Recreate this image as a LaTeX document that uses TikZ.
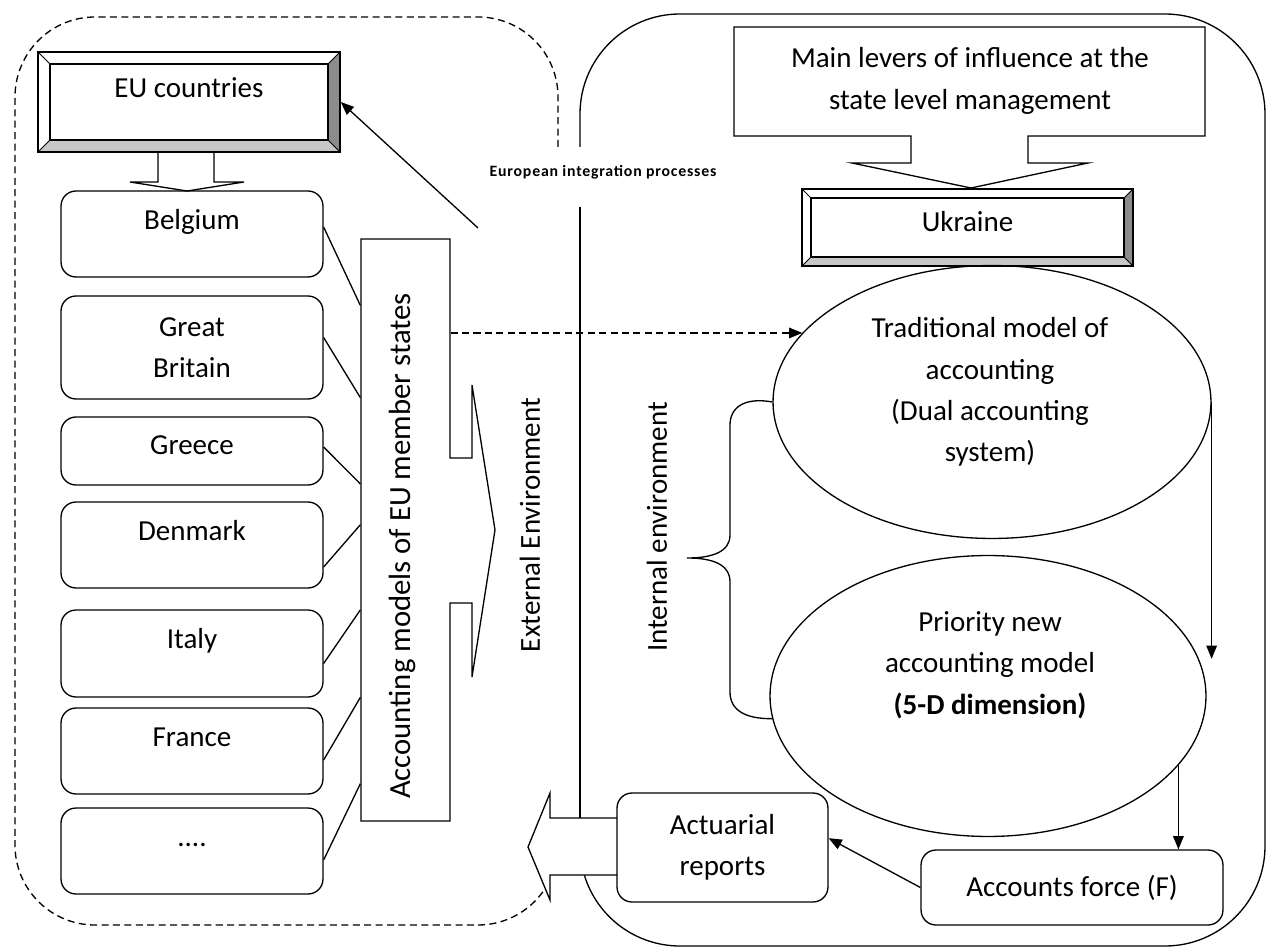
\documentclass[tikz,border=0pt]{standalone}
\usepackage{fontspec}
\setmainfont{Carlito}
\newfontfamily\notefont[LetterSpace=5]{Carlito}
\usetikzlibrary{shapes.geometric,arrows.meta,calc}

\begin{document}
\begin{tikzpicture}[x=0.02cm,y=-0.02cm,line width=0.75pt,
  font=\fontsize{16.5}{23.5}\selectfont,
  >={Triangle[length=7.5pt,width=6pt]},
  dashline/.style={dash pattern=on 4pt off 2.5pt},
  cbox/.style={draw,rounded corners=0.3cm,minimum width=5.24cm,align=center},
  raisetext/.style={text height=12pt,text depth=17.6pt},
  midtext/.style={text height=12pt,text depth=8pt},
  oval/.style={draw,ellipse,inner sep=0pt},
  bevelbox/.style={draw,line width=0.9pt,path picture={
    \path (path picture bounding box.north west) coordinate (o1)
          (path picture bounding box.north east) coordinate (o2)
          (path picture bounding box.south east) coordinate (o3)
          (path picture bounding box.south west) coordinate (o4);
    \fill[black!45] (o2) -- (o3) -- ([shift={(-#1,#1)}]o3) -- ([shift={(-#1,-#1)}]o2) -- cycle;
    \fill[black!22] (o4) -- (o3) -- ([shift={(-#1,#1)}]o3) -- ([shift={(#1,#1)}]o4) -- cycle;
    \draw[line width=0.5pt] (o1) -- ++(#1,-#1) (o2) -- ++(-#1,-#1) (o3) -- ++(-#1,#1) (o4) -- ++(#1,#1);
    \draw[line width=0.9pt] ([shift={(#1,-#1)}]o1) rectangle ([shift={(-#1,#1)}]o3);
  }}]
  \useasboundingbox (0,0) rectangle (1275,949);

  % frames
  \draw[dashline,rounded corners=1.6cm] (558,147) -- (558,17) -- (15,17) -- (15,925) -- (478,925);
  \draw[dashline] (478,925) arc (90:30:80);
  \draw[rounded corners=2cm] (580,147) -- (580,14) -- (1265,14) -- (1265,946) -- (680,946);
  \draw (680,946) arc (90:163:100);
  \draw (580,207) -- (580,818);
  \node[font=\notefont\bfseries\fontsize{9}{11}\selectfont] (eip) at (603,172) {European integration processes};

  % EU side
  \node[bevelbox=6.8pt,minimum width=6.04cm,minimum height=2cm,raisetext] (eu) at (189,102) {EU countries};
  \draw (158,152) -- (158,182) -- (130,182) -- (187,191) -- (244,182) -- (214,182) -- (214,152);
  \node[cbox,minimum height=1.72cm,raisetext] (bel) at (192,234) {Belgium};
  \node[cbox,minimum height=2.06cm] (gb) at (192,347.5) {Great\\Britain};
  \node[cbox,minimum height=1.36cm,midtext] (gre) at (192,451) {Greece};
  \node[cbox,minimum height=1.72cm,raisetext] (den) at (192,545) {Denmark};
  \node[cbox,minimum height=1.74cm,raisetext] (ita) at (192,653.5) {Italy};
  \node[cbox,minimum height=1.72cm,raisetext] (fra) at (192,751) {France};
  \node[cbox,minimum height=1.72cm,raisetext] (more) at (192,851) {....};

  \node[minimum width=1.78cm,minimum height=11.64cm] (acc) at (405.5,530) {};
  \draw (361,239) -- (450,239) -- (450,458) -- (472,458) -- (472,385) -- (495,530) -- (472,677) -- (472,603) -- (450,603) -- (450,821) -- (361,821) -- cycle;
  \node[rotate=90,font=\fontsize{17.5}{21}\selectfont] (acc-txt) at (402,546) {Accounting models of EU member states};
  \foreach \c/\s/\f in {bel/7/0.115,gb/10/0.273,gre/4/0.421,den/-22/0.491,ita/-10/0.637,fra/-9/0.787,more/-9/0.935}
    \draw ([yshift=\s*0.02cm]\c.east) -- ($(acc.north west)!\f!(acc.south west)$);

  \node[rotate=90] (ext) at (530,525) {External Environment};
  \node[rotate=90] (int) at (657,527) {Internal environment};

  % Ukraine side
  \node[align=center] (levers) at (970,81) {Main levers of influence at the\\state level management};
  \draw (734,27) -- (1205,27) -- (1205,136) -- (1028,136) -- (1028,163) -- (1088,163) -- (971,188) -- (852,163) -- (911,163) -- (911,136) -- (734,136) -- cycle;
  \node[bevelbox=5pt,minimum width=6.62cm,minimum height=1.54cm,midtext] (ukr) at (967.5,227.5) {Ukraine};
  \node[oval,minimum width=8.76cm,minimum height=5.46cm] (trad) at (992,402) {};
  \node[align=center] (trad-txt) at (990,392) {Traditional model of\\accounting\\(Dual accounting\\system)};
  \node[oval,minimum width=8.72cm,minimum height=5.62cm] (prio) at (988,696) {};
  \node[align=center] (prio-txt) at (990,665) {Priority new\\accounting model\\\textbf{(5-D dimension)}};
  \draw (trad.west) .. controls (745,397) and (730,407) .. (730,425) -- (730,535)
    .. controls (730,552) and (712,558) .. (687,558) .. controls (712,558) and (730,564) .. (730,582)
    -- (730,692) .. controls (730,710) and (745,719) .. (prio.186);

  \draw[fill=white] (617,818) -- (550,818) -- (550,793) -- (528,847) -- (550,900) -- (550,875) -- (617,875);
  \node[cbox,minimum width=4.22cm,minimum height=2.18cm] (act) at (722.5,847.5) {Actuarial\\reports};
  \node[cbox,minimum width=6.04cm,minimum height=1.5cm] (force) at (1072,887.5) {Accounts force (F)};

  % connectors
  \coordinate (eip-end) at (478,228);
  \draw[->] (eip-end) -- (eu.east);
  \draw[dashline,->] (acc.east |- trad.160) -- (trad.160);
  \draw[->] (trad.east) -- (trad.east |- prio.10);
  \draw[->] (prio.-20) -- (prio.-20 |- force.north);
  \draw[->] (force.west) -- (act.5);
\end{tikzpicture}
\end{document}
